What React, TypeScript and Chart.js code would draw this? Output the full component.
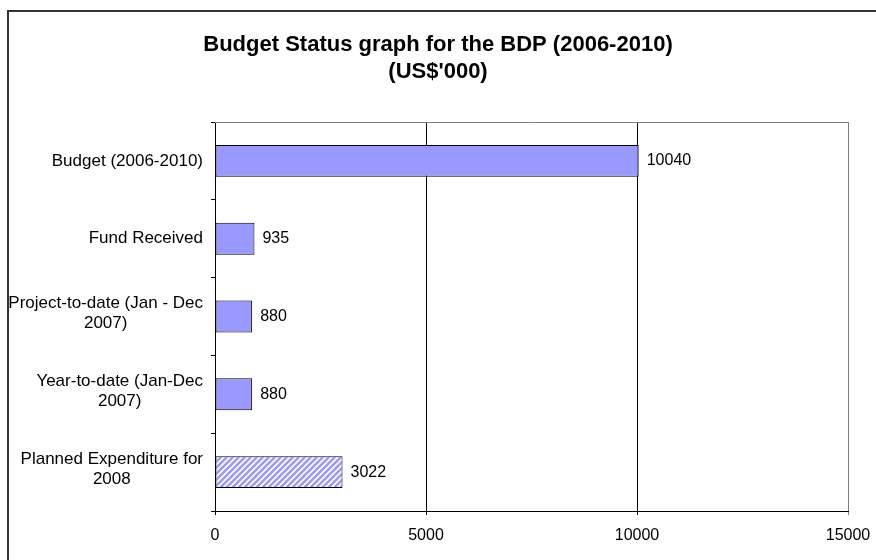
import { useEffect, useRef } from 'react';
import { Chart, registerables } from 'chart.js';

Chart.register(...registerables);

const FONT = '"Liberation Sans", Arial, Helvetica, sans-serif';

const categories: string[][] = [
  ['Budget (2006-2010)'],
  ['Fund Received'],
  ['Project-to-date (Jan - Dec', '2007)'],
  ['Year-to-date (Jan-Dec', '2007)'],
  ['Planned Expenditure for', '2008'],
];
const values = [10040, 935, 880, 880, 3022];
const hatched = [false, false, false, false, true];
const titleLines = ['Budget Status graph for the BDP (2006-2010)', "(US$'000)"];
const xMin = 0;
const xMax = 15000;
const xStep = 5000;

function makeHatch(): CanvasPattern | string {
  const c = document.createElement('canvas');
  c.width = 6;
  c.height = 6;
  const g = c.getContext('2d');
  if (!g) return '#9999ff';
  g.fillStyle = '#ffffff';
  g.fillRect(0, 0, 6, 6);
  g.strokeStyle = '#9999ff';
  g.lineWidth = 2.6;
  g.beginPath();
  g.moveTo(0, 6);
  g.lineTo(6, 0);
  g.moveTo(-3, 3);
  g.lineTo(3, -3);
  g.moveTo(3, 9);
  g.lineTo(9, 3);
  g.stroke();
  return g.createPattern(c, 'repeat') || '#9999ff';
}

const decor = {
  id: 'decor',
  beforeDraw(chart: any) {
    const ctx = chart.ctx as CanvasRenderingContext2D;
    ctx.save();
    ctx.fillStyle = '#ffffff';
    ctx.fillRect(0, 0, chart.width, chart.height);
    ctx.strokeStyle = '#333333';
    ctx.lineWidth = 2;
    ctx.strokeRect(8, 11, chart.width + 100, chart.height + 100);
    ctx.restore();
  },
  afterDraw(chart: any) {
    const ctx = chart.ctx as CanvasRenderingContext2D;
    const area = chart.chartArea;
    const yScale = chart.scales.y;
    ctx.save();
    // top plot border (grey)
    ctx.strokeStyle = '#808080';
    ctx.lineWidth = 1;
    ctx.beginPath();
    ctx.moveTo(area.left, Math.round(area.top) + 0.5);
    ctx.lineTo(area.right, Math.round(area.top) + 0.5);
    ctx.stroke();

    // category labels: each block centred, block right-aligned to the axis
    ctx.font = `17px ${FONT}`;
    ctx.fillStyle = '#000000';
    ctx.textAlign = 'center';
    ctx.textBaseline = 'middle';
    const rightEdge = area.left - 12;
    const lh = 19.5;
    categories.forEach((lines, i) => {
      const cy = yScale.getPixelForValue(i);
      const widest = Math.max(...lines.map((l) => ctx.measureText(l).width));
      const cx = rightEdge - widest / 2;
      const shift = lines.length > 1 ? -3 : 0;
      const start = cy - ((lines.length - 1) * lh) / 2 + shift;
      lines.forEach((l, j) => ctx.fillText(l, cx, start + j * lh));
    });

    // value labels
    ctx.font = `16px ${FONT}`;
    ctx.textAlign = 'left';
    const meta = chart.getDatasetMeta(0);
    meta.data.forEach((bar: any, i: number) => {
      ctx.fillText(String(values[i]), bar.x + 8, bar.y);
    });
    ctx.restore();
  },
};

export default function App() {
  const ref = useRef<HTMLCanvasElement | null>(null);

  useEffect(() => {
    if (!ref.current) return;
    const hatch = makeHatch();
    const chart = new Chart(ref.current, {
      type: 'bar',
      data: {
        labels: categories.map((c) => c.join(' ')),
        datasets: [
          {
            data: values,
            backgroundColor: values.map((_, i) => (hatched[i] ? hatch : '#9999ff')) as any,
            borderColor: '#000000',
            borderWidth: 1,
            borderSkipped: false,
            barPercentage: 0.41,
            categoryPercentage: 1,
          },
        ],
      },
      options: {
        indexAxis: 'y',
        animation: false,
        responsive: false,
        devicePixelRatio: 1,
        layout: { padding: 0 },
        plugins: {
          legend: { display: false },
          tooltip: { enabled: false },
          title: {
            display: true,
            text: titleLines,
            color: '#000000',
            font: { family: FONT, size: 22, weight: 'bold', lineHeight: 27 / 22 },
            padding: { top: 31.5, bottom: 36.5 },
          },
        },
        scales: {
          x: {
            type: 'linear',
            min: xMin,
            max: xMax,
            ticks: {
              stepSize: xStep,
              color: '#000000',
              font: { family: FONT, size: 16 },
              padding: 11,
              callback: (v: any) => String(v),
            },
            grid: {
              color: (c: any) => (c.tick && c.tick.value === xMax ? '#808080' : '#000000'),
              tickLength: 4,
              drawTicks: true,
            },
            border: { color: '#000000' },
            afterFit: (s: any) => {
              s.height = 49;
              s.paddingLeft = 0;
              s.paddingRight = 0;
            },
          },
          y: {
            type: 'category',
            ticks: { display: false },
            grid: {
              offset: true,
              drawOnChartArea: false,
              drawTicks: true,
              tickLength: 4,
              color: '#000000',
            },
            border: { color: '#000000' },
            afterFit: (s: any) => {
              s.width = 215;
            },
          },
          yRight: {
            type: 'category',
            position: 'right',
            display: true,
            ticks: { display: false },
            grid: { display: false, drawTicks: false },
            border: { display: false },
            afterFit: (s: any) => {
              s.width = 28;
            },
          },
        },
      },
      plugins: [decor],
    });
    return () => chart.destroy();
  }, []);

  return (
    <div style={{ position: 'fixed', left: 0, top: 0, width: 876, height: 560, background: '#fff' }}>
      <canvas ref={ref} width={876} height={560} style={{ display: 'block' }} />
    </div>
  );
}
